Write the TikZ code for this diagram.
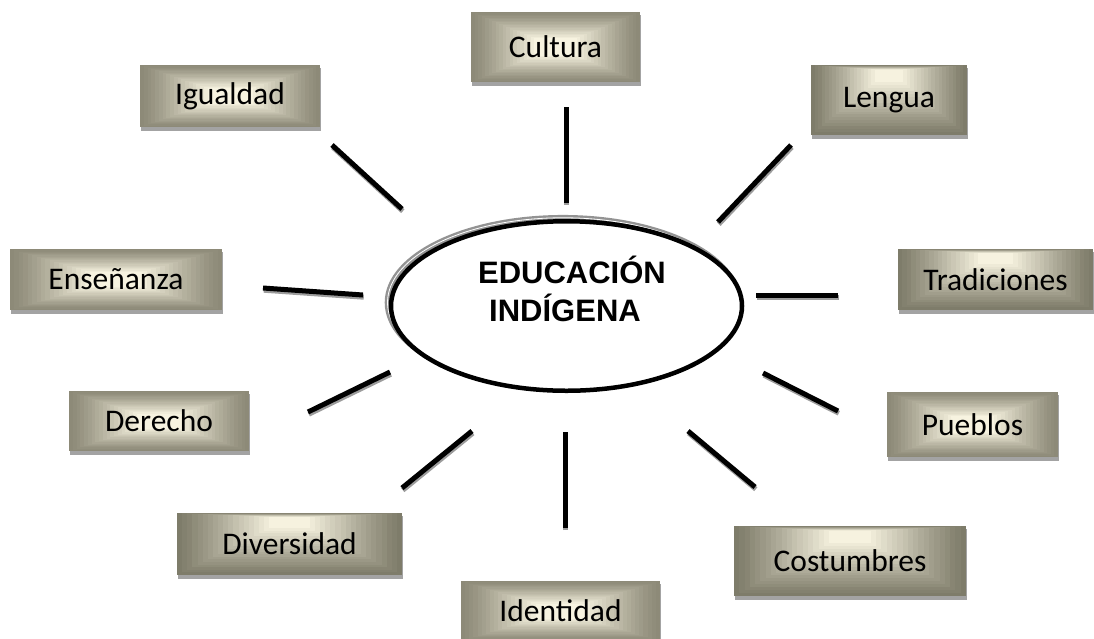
\documentclass[tikz,border=0pt]{standalone}
\usepackage{fontspec}
\newfontfamily\boxfont{Carlito}
\newfontfamily\arialfont{Liberation Sans}
\usetikzlibrary{calc,backgrounds,shapes.geometric}
\definecolor{outA}{HTML}{8D8A78}
\definecolor{inA}{HTML}{F7F3E0}
\definecolor{outB}{HTML}{7E7C6A}
\definecolor{inB}{HTML}{F6F2DF}
\definecolor{shadowgray}{HTML}{A3A3A3}
\definecolor{lineshadow}{HTML}{9C9C9C}
\tikzset{
  lbl/.style={font=\boxfont\fontsize{31.5}{36}\selectfont, text=black, inner sep=0pt},
  boxA/.style={lbl, fill=outA, path picture={
    \foreach \gi in {1,...,18}{
      \pgfmathsetmacro{\gf}{1-0.75*\gi/18}
      \pgfmathtruncatemacro{\gp}{100*(\gi/18)^1.2}
      \fill[inA!\gp!outA] ($(path picture bounding box.center)!\gf!(path picture bounding box.south west)$) rectangle ($(path picture bounding box.center)!\gf!(path picture bounding box.north east)$);
    }}},
  boxB/.style={lbl, fill=outB, path picture={
    \coordinate (gc) at ($(path picture bounding box.north)!0.08!(path picture bounding box.south)$);
    \foreach \gi in {1,...,18}{
      \pgfmathsetmacro{\gf}{1-0.82*\gi/18}
      \pgfmathtruncatemacro{\gp}{100*(\gi/18)^1.1}
      \fill[inB!\gp!outB] ($(gc)!\gf!(path picture bounding box.south west)$) rectangle ($(gc)!\gf!(path picture bounding box.north east)$);
    }}},
  conn/.style={line width=5pt, black},
  connshadow/.style={line width=5pt, lineshadow},
  bigtext/.style={font=\arialfont\bfseries\fontsize{31}{38}\selectfont, inner sep=0pt, anchor=base}
}
\begin{document}
\begin{tikzpicture}[x=1pt,y=-1pt]
\useasboundingbox (0,0) rectangle (1094,638);

% central ellipse
\draw[draw=gray!85, double=white, double distance=0.8pt, line width=2.4pt]
  (563,302.5) ellipse [x radius=175.5, y radius=84.75];
\node[draw=black, line width=4.5pt, fill=white, ellipse, inner sep=0pt,
  minimum width=351pt, minimum height=169.5pt] (edu) at (566.5,306) {};
\node[bigtext] (edu1) at (572,283) {EDUCACIÓN};
\node[bigtext] (edu2) at (565,321) {INDÍGENA};

% boxes
\node[boxA, minimum width=169, minimum height=70] (cultura) at (555.5,47) {Cultura};
\node[boxA, minimum width=180, minimum height=62] (igualdad) at (230,96) {Igualdad};
\node[boxB, minimum width=156, minimum height=70] (lengua) at (889,100) {Lengua};
\node[boxB, minimum width=195, minimum height=61] (tradiciones) at (995.5,279.5) {Tradiciones};
\node[boxA, minimum width=212, minimum height=61] (ensenanza) at (116,279.5) {Enseñanza};
\node[boxA, minimum width=180, minimum height=60] (derecho) at (159,421) {Derecho};
\node[boxA, minimum width=171, minimum height=65] (pueblos) at (972.5,424.5) {Pueblos};
\node[boxB, minimum width=232, minimum height=70] (costumbres) at (850,561) {Costumbres};
\node[boxB, minimum width=225, minimum height=62] (diversidad) at (289.5,544) {Diversidad};
\node[boxA, minimum width=199, minimum height=60] (identidad) at (560.5,611) {Identidad};

\begin{scope}[on background layer]
\foreach \n in {cultura,igualdad,lengua,tradiciones,ensenanza,derecho,pueblos,costumbres,diversidad,identidad}{
  \fill[shadowgray] ([shift={(1,3.5)}]\n.south west) rectangle ([shift={(1,3.5)}]\n.north east);
}
\end{scope}

% connector end points
\coordinate (ig1) at (332,145); \coordinate (ig2) at (402,209);
\coordinate (cu1) at (566,107); \coordinate (cu2) at (566,203);
\coordinate (le1) at (791,145); \coordinate (le2) at (718,222);
\coordinate (tr1) at (838,295); \coordinate (tr2) at (756,295);
\coordinate (en1) at (263,288); \coordinate (en2) at (363,295);
\coordinate (de1) at (308,412); \coordinate (de2) at (390,372);
\coordinate (pu1) at (838,411); \coordinate (pu2) at (763,373);
\coordinate (co1) at (755,487); \coordinate (co2) at (688,431);
\coordinate (di1) at (402,488); \coordinate (di2) at (472,431);
\coordinate (id1) at (565,528); \coordinate (id2) at (565,432);

\foreach \a/\b in {ig1/ig2,cu1/cu2,le1/le2,tr1/tr2,en1/en2,de1/de2,pu1/pu2,co1/co2,di1/di2,id1/id2}{
  \draw[connshadow] ([shift={(0.8,2.2)}]\a) -- ([shift={(0.8,2.2)}]\b);
  \draw[conn] (\a) -- (\b);
}
\end{tikzpicture}
\end{document}
